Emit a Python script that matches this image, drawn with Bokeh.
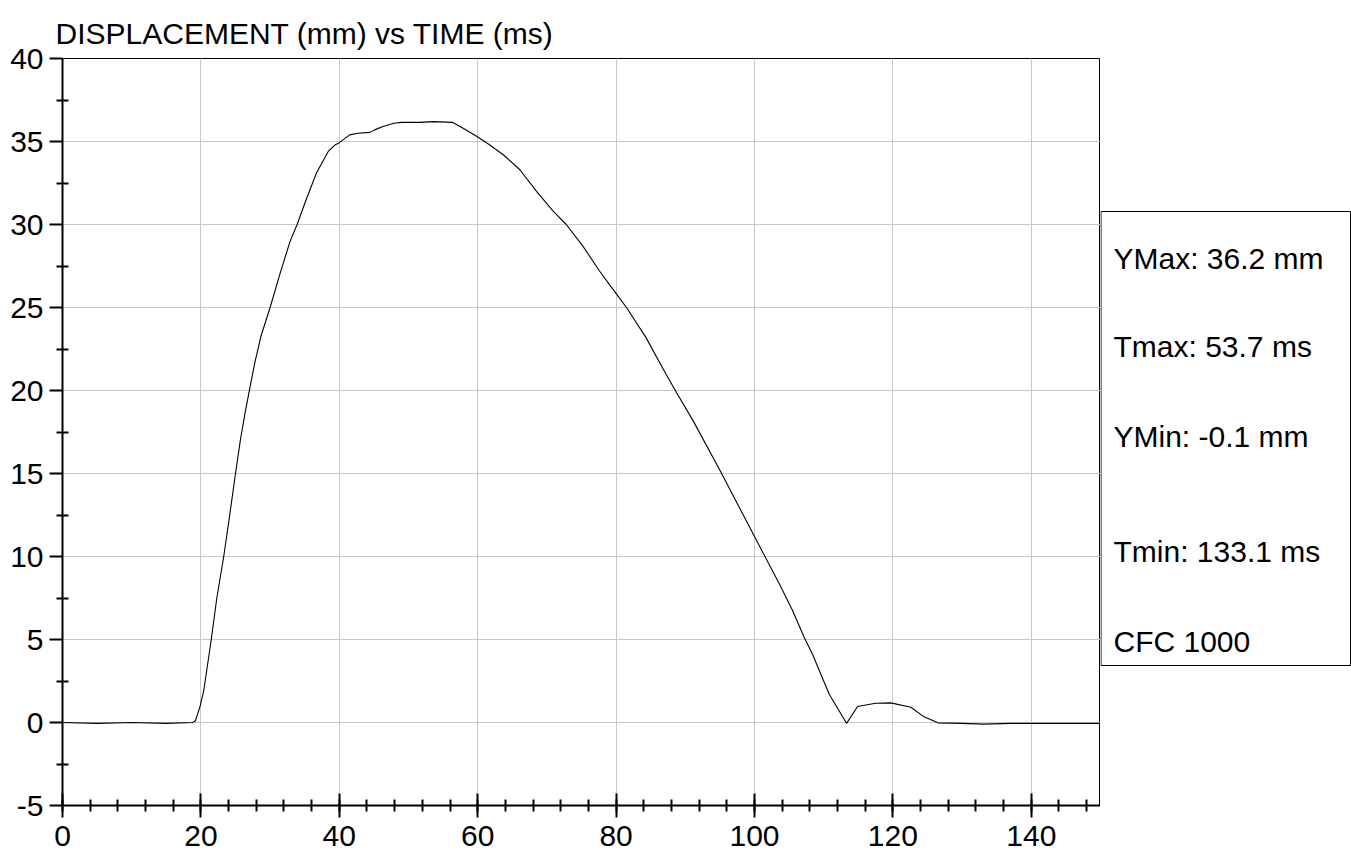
from bokeh.plotting import figure
from bokeh.models import Range1d, FixedTicker, Title, ColumnDataSource
from bokeh.layouts import row
from bokeh.core.properties import value
from bokeh.embed import file_html
from bokeh.resources import INLINE

FONT = "Liberation Sans"
FS = "30px"

# ---- data ----
t_ms = [0, 5, 10, 15, 18.8, 19.2, 19.9, 20.4, 20.9, 21.5, 22.3, 23.3, 24.2, 25.0, 25.7,
        26.4, 27.1, 27.8, 28.7, 30.0, 31.4, 32.9, 33.9, 35.3, 36.7, 38.4, 39.4, 39.9, 41.5, 42.7,
        44.4, 45.1, 46.3, 47.9, 49.0, 51.6, 53.7, 56.4, 57.9, 59.9, 61.7, 63.7, 66.1, 68.5, 70.9,
        72.8, 75.2, 77.6, 79.9, 81.5, 84.3, 87.2, 88.7, 91.1, 95.0, 100.0, 103.6, 105.5, 107.2, 108.4,
        110.8, 113.3, 114.9, 117.5, 119.7, 122.6, 124.5, 126.5, 130, 133.1, 137, 142, 146, 150]
disp_mm = [0.0, -0.05, 0.0, -0.05, 0.0, 0.1, 1.0, 1.9, 3.3, 5.0, 7.5, 10.0, 12.6, 15.0, 17.0,
           18.7, 20.2, 21.7, 23.3, 25.0, 27.0, 29.0, 30.0, 31.6, 33.1, 34.4, 34.8, 34.9, 35.4, 35.5,
           35.55, 35.7, 35.9, 36.1, 36.15, 36.15, 36.2, 36.15, 35.8, 35.3, 34.8, 34.2, 33.3, 32.0, 30.8,
           30.0, 28.7, 27.2, 25.9, 25.0, 23.2, 21.0, 19.9, 18.2, 15.2, 11.2, 8.35, 6.75, 5.1, 4.1,
           1.7, -0.05, 0.96, 1.16, 1.18, 0.92, 0.34, -0.02, -0.05, -0.1, -0.05, -0.05, -0.05, -0.05]

x_major = [0, 20, 40, 60, 80, 100, 120, 140]
x_minor = list(range(0, 150, 4))
y_major = [-5, 0, 5, 10, 15, 20, 25, 30, 35, 40]
y_minor = [-2.5, 2.5, 7.5, 12.5, 17.5, 22.5, 27.5, 32.5, 37.5]

title_text = "DISPLACEMENT (mm) vs TIME (ms)"
stats_labels = ["YMax: 36.2 mm", "Tmax: 53.7 ms", "YMin: -0.1 mm", "Tmin: 133.1 ms", "CFC 1000"]

H = 852
TOP = 58
BOTTOM_BORDER = 47

p = figure(width=1100, height=H, x_range=Range1d(0, 150), y_range=Range1d(-5, 40),
           output_backend="svg", toolbar_location=None,
           min_border_left=62, min_border_right=0, min_border_top=TOP,
           min_border_bottom=BOTTOM_BORDER,
           background_fill_color="white", border_fill_color="white")
p.title = Title(text=title_text, text_font=FONT, text_font_size=FS,
                text_font_style="normal", text_color="black", offset=-7,
                standoff=14, vertical_align="top")

p.line(t_ms, disp_mm, line_color="black", line_width=1.1)

p.outline_line_color = "black"
p.outline_line_width = 1
p.outline_line_alpha = 1

xa = p.xaxis[0]
xa.ticker = FixedTicker(ticks=x_major, minor_ticks=x_minor)
ya = p.yaxis[0]
ya.ticker = FixedTicker(ticks=y_major, minor_ticks=y_minor)
ya.major_label_overrides = {-5: "-5"}

for ax in (xa, ya):
    ax.axis_line_color = "black"
    ax.axis_line_width = 2
    ax.major_tick_line_color = "black"
    ax.major_tick_line_width = 2
    ax.minor_tick_line_color = "black"
    ax.minor_tick_line_width = 2
    ax.major_label_text_font = FONT
    ax.major_label_text_font_size = FS
    ax.major_label_text_color = "black"
    ax.minor_tick_in = 6
    ax.minor_tick_out = 6

xa.major_tick_in = 12
xa.major_tick_out = 12
xa.major_label_standoff = 8
ya.major_tick_in = 0
ya.major_tick_out = 13
ya.major_label_standoff = 6

p.xgrid.ticker = FixedTicker(ticks=x_major)
p.ygrid.ticker = FixedTicker(ticks=y_major)
for g in (p.xgrid, p.ygrid):
    g.grid_line_color = "#c8c8c8"
    g.grid_line_width = 1

# ---- info box on the right (coordinates in page pixels) ----
q = figure(width=251, height=H, x_range=Range1d(0, 251),
           y_range=Range1d(H - BOTTOM_BORDER, TOP),
           output_backend="svg", toolbar_location=None,
           x_axis_type=None, y_axis_type=None,
           min_border_left=0, min_border_right=0, min_border_top=TOP,
           min_border_bottom=BOTTOM_BORDER,
           background_fill_color="white", border_fill_color="white")
q.grid.visible = False
q.outline_line_color = None

q.quad(left=[0.5], right=[250], top=[211], bottom=[665], fill_color=None,
       line_color="black", line_width=1)

label_y = [258, 346, 436, 551, 641]
src = ColumnDataSource(dict(x=[13] * len(stats_labels), y=label_y, text=stats_labels))
q.text(x="x", y="y", text="text", source=src, text_font=value(FONT),
       text_font_size=FS, text_color="black", text_baseline="alphabetic", text_align="left")

layout = row(p, q, spacing=0)
open("out.html", "w").write(file_html(layout, INLINE))
